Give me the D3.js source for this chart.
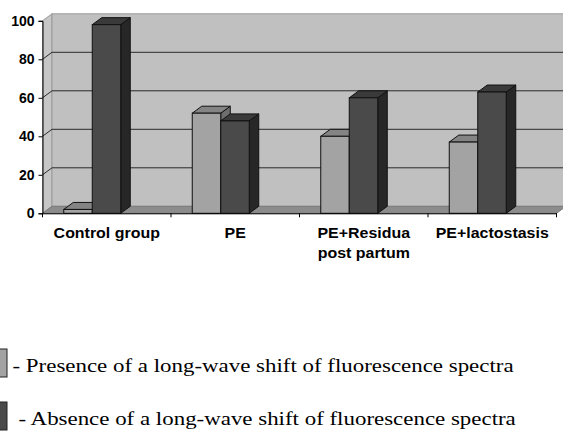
<!DOCTYPE html>
<html>
<head>
<meta charset="utf-8">
<script src="https://cdn.jsdelivr.net/npm/d3@7"></script>
<style>
  body { margin: 0; background: #fff; }
  svg { display: block; }
</style>
</head>
<body>
<div id="chart"></div>
<script>
const categories = ["Control group", "PE", "PE+Residua\npost partum", "PE+lactostasis"];
const presence = [2, 52, 40, 37];
const absence = [98, 48, 60, 63];
const yTicks = [0, 20, 40, 60, 80, 100];
const legendLabels = [
  "- Presence of a long-wave shift of fluorescence spectra",
  "- Absence of a long-wave shift of fluorescence spectra"
];

const width = 563, height = 435;
const dx = 9.5, dy = -7; // 3d depth offset

const svg = d3.select("#chart").append("svg")
  .attr("width", width)
  .attr("height", height);

const y = d3.scaleLinear().domain([0, 100]).range([213.3, 20.8]);
const x = d3.scaleBand().domain(categories).range([42.5, 556.5]);
// bars sit a bit left of the category centre
const xb = d3.scaleBand().domain(["p", "a"]).range([0, 57]);
const barLeft = c => x(c) + x.bandwidth() / 2 - 14.5 - 28.5;

// left side wall
svg.append("path")
  .attr("d", `M42.5,${y(0)}L42.5,${y(100)}L${42.5 + dx},${y(100) + dy}L${42.5 + dx},${y(0) + dy}Z`)
  .attr("fill", "#c6c6c6").attr("stroke", "#9a9a9a");

// back wall
svg.append("rect")
  .attr("x", 42.5 + dx).attr("y", y(100) + dy)
  .attr("width", width - 42.5 - dx + 5).attr("height", y(0) - y(100))
  .attr("fill", "#c0c0c0").attr("stroke", "#9a9a9a");

// gridlines
const grid = svg.append("g").attr("stroke", "#2a2a2a").attr("fill", "none");
yTicks.filter(v => v > 0 && v < 100).forEach(v => {
  grid.append("path")
    .attr("d", `M42.5,${y(v)}L${42.5 + dx},${y(v) + dy}L${width + 5},${y(v) + dy}`);
});

// floor
svg.append("path")
  .attr("d", `M42.5,${y(0)}L${x.range()[1]},${y(0)}L${x.range()[1] + dx},${y(0) + dy}L${42.5 + dx},${y(0) + dy}Z`)
  .attr("fill", "#8c8c8c").attr("stroke", "#7a7a7a");

// bars
const series = [
  { key: "p", values: presence, front: "#a3a3a3", top: "#848484", side: "#6e6e6e" },
  { key: "a", values: absence, front: "#4a4a4a", top: "#3a3a3a", side: "#272727" }
];
const bw = xb.bandwidth();
const bars = svg.append("g").attr("stroke", "#111").attr("stroke-width", 1);
categories.forEach((c, i) => {
  series.forEach(s => {
    const x0 = barLeft(c) + xb(s.key), x1 = x0 + bw;
    const y0 = y(0), y1 = y(s.values[i]);
    const g = bars.append("g");
    g.append("path")
      .attr("d", `M${x1},${y0}L${x1},${y1}L${x1 + dx},${y1 + dy}L${x1 + dx},${y0 + dy}Z`)
      .attr("fill", s.side);
    g.append("path")
      .attr("d", `M${x0},${y1}L${x0 + dx},${y1 + dy}L${x1 + dx},${y1 + dy}L${x1},${y1}Z`)
      .attr("fill", s.top);
    g.append("rect")
      .attr("x", x0).attr("y", y1).attr("width", bw).attr("height", y0 - y1)
      .attr("fill", s.front);
  });
});

// y axis
const yAxis = svg.append("g")
  .attr("transform", "translate(42.5,0)")
  .call(d3.axisLeft(y).tickValues(yTicks).tickSize(4).tickPadding(4));
yAxis.selectAll("text")
  .attr("font-family", "Liberation Sans, Arial, sans-serif")
  .attr("font-size", 14).attr("font-weight", "bold").attr("fill", "#000");
yAxis.selectAll("line, path").attr("stroke", "#000");

// x axis
const xAxis = svg.append("g")
  .attr("transform", `translate(0,${y(0)})`)
  .call(d3.axisBottom(x).tickSize(0).tickFormat(""));
xAxis.select(".domain").attr("stroke", "#000");
xAxis.selectAll(".sep").data(x.domain().map(c => x(c)).concat([x.range()[1]]))
  .join("line").attr("class", "sep")
  .attr("x1", d => d).attr("x2", d => d).attr("y1", 0).attr("y2", 4)
  .attr("stroke", "#000");

// category labels (source picture is a little stretched horizontally)
svg.append("g").selectAll("text").data(categories).join("text")
  .attr("transform", d => `translate(${x(d) + x.bandwidth() / 2},237.7) scale(1.14,1)`)
  .attr("text-anchor", "middle")
  .attr("font-family", "Liberation Sans, Arial, sans-serif")
  .attr("font-size", 14).attr("font-weight", "bold")
  .each(function (d) {
    d.split("\n").forEach((line, k) => {
      d3.select(this).append("tspan")
        .attr("x", 0)
        .attr("dy", k === 0 ? 0 : 20)
        .text(line);
    });
  });

// legend
const legend = svg.append("g");
const legendY = [349, 402];
const legendFill = ["#a3a3a3", "#4a4a4a"];
legendLabels.forEach((t, i) => {
  legend.append("rect")
    .attr("x", -3).attr("y", legendY[i]).attr("width", 10).attr("height", 28)
    .attr("fill", legendFill[i]).attr("stroke", "#222");
  legend.append("text")
    .attr("transform", `translate(${i === 0 ? 12.5 : 18.5},${legendY[i] + 22.5}) scale(1.175,1)`)
    .attr("font-family", "Liberation Serif, Times New Roman, serif")
    .attr("font-size", 19.5)
    .text(t);
});
</script>
</body>
</html>
